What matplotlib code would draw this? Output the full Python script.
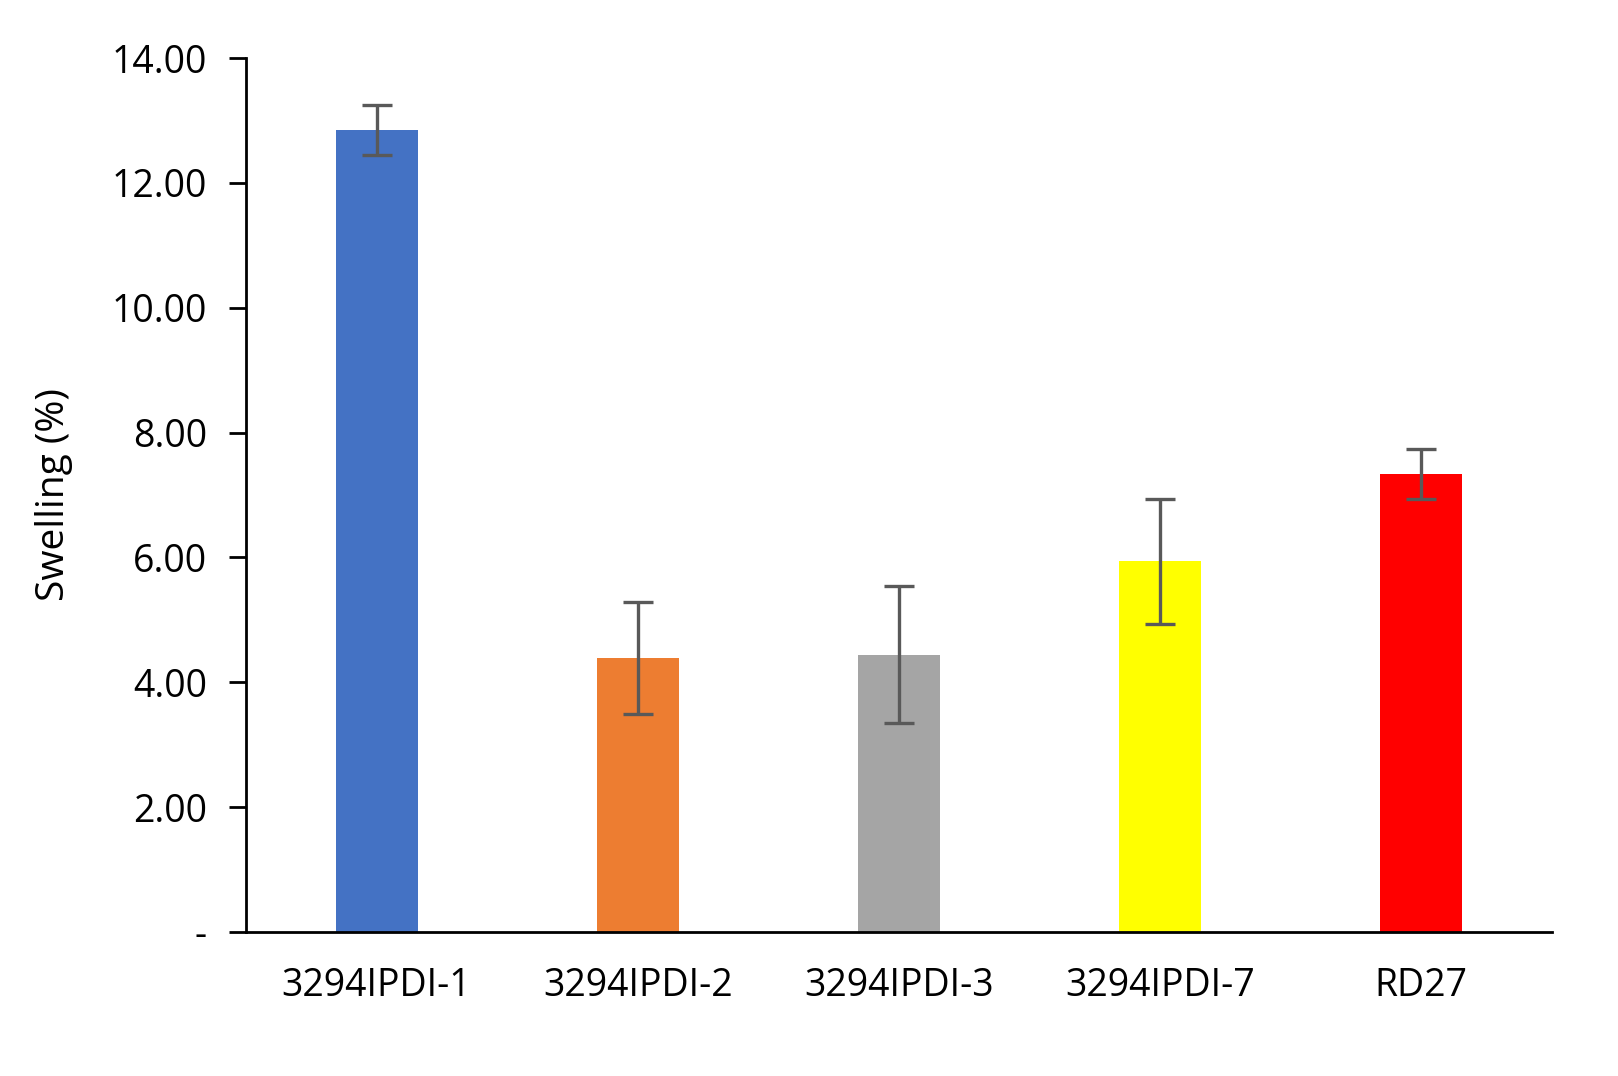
import matplotlib
matplotlib.use("Agg")
import matplotlib.pyplot as plt

categories = ["3294IPDI-1", "3294IPDI-2", "3294IPDI-3", "3294IPDI-7", "RD27"]
values = [12.85, 4.39, 4.44, 5.94, 7.34]
errors = [0.40, 0.90, 1.10, 1.00, 0.40]
colors = ["#4472C4", "#ED7D31", "#A5A5A5", "#FFFF00", "#FF0000"]
yticks = [0, 2, 4, 6, 8, 10, 12, 14]
ytick_labels = ["-", "2.00", "4.00", "6.00", "8.00", "10.00", "12.00", "14.00"]

plt.rcParams['font.family'] = ['Open Sans', 'DejaVu Sans']
fig = plt.figure(figsize=(16.18, 10.76), dpi=100)
ax = fig.add_axes([0.152, 0.134, 0.807, 0.812])
x = list(range(len(categories)))
ax.bar(x, values, width=0.314, color=colors, zorder=2)
ax.errorbar(x, values, yerr=errors, fmt='none', ecolor='#595959', elinewidth=2.4,
            capsize=11, capthick=2.4, zorder=3)
ax.set_xlim(-0.5, 4.5)
ax.set_ylim(0, 14)
ax.set_yticks(yticks)
ax.set_yticklabels(ytick_labels, fontsize=27)
ax.set_xticks(x)
ax.set_xticklabels(categories, fontsize=27)
ax.tick_params(axis='x', length=0, pad=25)
ax.tick_params(axis='y', length=12, width=2, pad=16)
for s in ['top', 'right']:
    ax.spines[s].set_visible(False)
for s in ['left', 'bottom']:
    ax.spines[s].set_linewidth(2)
ax.set_ylabel("Swelling (%)", fontsize=28, labelpad=28)
fig.savefig("out.png", dpi=100)
